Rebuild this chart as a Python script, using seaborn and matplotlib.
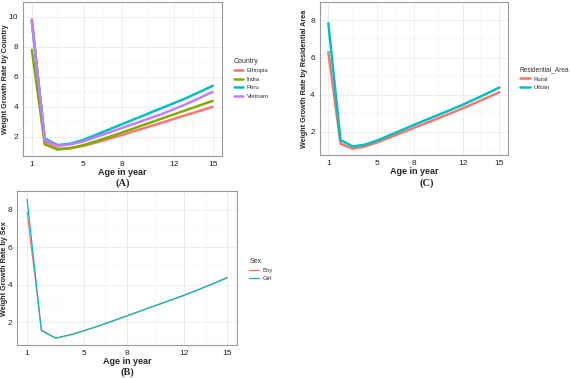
import pandas as pd
import matplotlib
matplotlib.use("Agg")
import matplotlib.pyplot as plt
import seaborn as sns

# Values
ages = list(range(1, 16))

ethiopia = [9.82, 1.7, 1.2, 1.25, 1.4, 1.63, 1.88, 2.13, 2.4, 2.66, 2.93, 3.2, 3.47, 3.73, 4.0]
india = [7.8, 1.5, 1.15, 1.25, 1.45, 1.72, 2.0, 2.3, 2.6, 2.9, 3.2, 3.5, 3.8, 4.1, 4.4]
peru = [9.72, 1.9, 1.45, 1.55, 1.8, 2.15, 2.5, 2.85, 3.2, 3.55, 3.9, 4.25, 4.6, 5.0, 5.4]
vietnam = [9.68, 1.8, 1.4, 1.5, 1.7, 2.0, 2.3, 2.6, 2.9, 3.2, 3.5, 3.85, 4.2, 4.6, 5.0]

rural = [6.3, 1.35, 1.08, 1.2, 1.42, 1.68, 1.94, 2.2, 2.46, 2.72, 2.98, 3.26, 3.54, 3.83, 4.12]
urban = [7.85, 1.55, 1.2, 1.3, 1.52, 1.8, 2.08, 2.36, 2.63, 2.9, 3.17, 3.45, 3.75, 4.06, 4.38]

boy = [7.88, 1.6, 1.15, 1.33, 1.55, 1.8, 2.07, 2.35, 2.62, 2.9, 3.17, 3.45, 3.75, 4.06, 4.4]
girl = [8.58, 1.55, 1.15, 1.32, 1.55, 1.8, 2.07, 2.34, 2.62, 2.89, 3.17, 3.44, 3.74, 4.05, 4.37]

x_ticks = [1, 5, 8, 12, 15]

gg2 = ["#F8766D", "#00BFC4"]
gg4 = ["#F8766D", "#7CAE00", "#00BFC4", "#C77CFF"]

W, H = 570, 378


def long_df(group_col, groups):
    rows = []
    for name, vals in groups.items():
        for a, v in zip(ages, vals):
            rows.append({"age": a, "rate": v, group_col: name})
    return pd.DataFrame(rows)


sns.set_theme(style="white")
plt.rcParams["font.family"] = ["Liberation Sans", "DejaVu Sans"]

fig = plt.figure(figsize=(W / 100, H / 100), dpi=100)
fig.patch.set_facecolor("white")


def style_axes(ax, ylabel, yticks, ylab_x):
    ax.set_xticks(x_ticks)
    ax.set_yticks(yticks)
    ax.set_xticks([3, 6.5, 10, 13.5], minor=True)
    ax.set_yticks([y + 1 for y in yticks] + [yticks[0] - 1], minor=True)
    ax.grid(True, which="major", color="#EBEBEB", linewidth=0.6)
    ax.grid(True, which="minor", color="#F2F2F2", linewidth=0.35)
    ax.set_axisbelow(True)
    for s in ax.spines.values():
        s.set_color("#9A9A9A")
        s.set_linewidth(0.8)
    ax.tick_params(axis="both", which="major", labelsize=6, colors="#555555",
                   length=2.5, width=0.6, pad=1, labelcolor="#222222")
    ax.tick_params(which="minor", length=0)
    ax.set_xlabel("Age in year", fontsize=6.5, fontweight="bold", labelpad=0)
    ax.set_ylabel(ylabel, fontsize=5.2, fontweight="bold")
    # y title sits tight to the figure edge; x given is its right side
    bb = ax.get_position()
    ax.yaxis.set_label_coords(ylab_x / W, bb.y0 + bb.height / 2,
                              transform=fig.transFigure)


def place_legend(ax, title, anchor, spacing=0.45, title_size=5):
    leg = ax.legend(title=title, loc="upper left", bbox_to_anchor=anchor,
                    bbox_transform=fig.transFigure, frameon=False,
                    fontsize=4.3, title_fontsize=title_size, handlelength=1.6,
                    handletextpad=0.6, labelspacing=spacing, borderpad=0,
                    alignment="left")
    leg.get_title().set_color("#333333")
    for t in leg.get_texts():
        t.set_color("#333333")
    return leg


# (A) Country
df_a = long_df("Country", {"Ethiopia": ethiopia, "India": india,
                           "Peru": peru, "Vietnam": vietnam})
ax_a = fig.add_axes([0.040, 0.587, 0.349, 0.408])
sns.lineplot(data=df_a, x="age", y="rate", hue="Country", palette=gg4,
             linewidth=1.8, ax=ax_a)
style_axes(ax_a, "Weight Growth Rate by Country", [2, 4, 6, 8, 10], 9)
place_legend(ax_a, "Country", (0.405, 0.855), spacing=0.55)

# (C) Residential area
df_c = long_df("Residential_Area", {"Rural": rural, "Urban": urban})
ax_c = fig.add_axes([0.561, 0.590, 0.330, 0.405])
sns.lineplot(data=df_c, x="age", y="rate", hue="Residential_Area",
             palette=gg2, linewidth=1.8, ax=ax_c)
style_axes(ax_c, "Weight Growth Rate by Residential Area", [2, 4, 6, 8], 308)
place_legend(ax_c, "Residential_Area", (517 / W, 0.833), spacing=0.55,
             title_size=4.7)

# (B) Sex
df_b = long_df("Sex", {"Boy": boy, "Girl": girl})
ax_b = fig.add_axes([0.030, 0.087, 0.386, 0.407])
sns.lineplot(data=df_b, x="age", y="rate", hue="Sex", palette=gg2,
             linewidth=0.9, ax=ax_b)
style_axes(ax_b, "Weight Growth Rate by Sex", [2, 4, 6, 8], 8)
place_legend(ax_b, "Sex", (0.432, 0.325))

# panel captions
cap = dict(fontsize=7.5, fontweight="bold", ha="center", va="center",
           family=["Liberation Serif", "DejaVu Serif"])
fig.text(0.215, 1 - 183 / H, "(A)", **cap)
fig.text(0.749, 1 - 183 / H, "(C)", **cap)
fig.text(0.223, 1 - 372 / H, "(B)", **cap)

fig.savefig("out.png", dpi=100, facecolor="white")
